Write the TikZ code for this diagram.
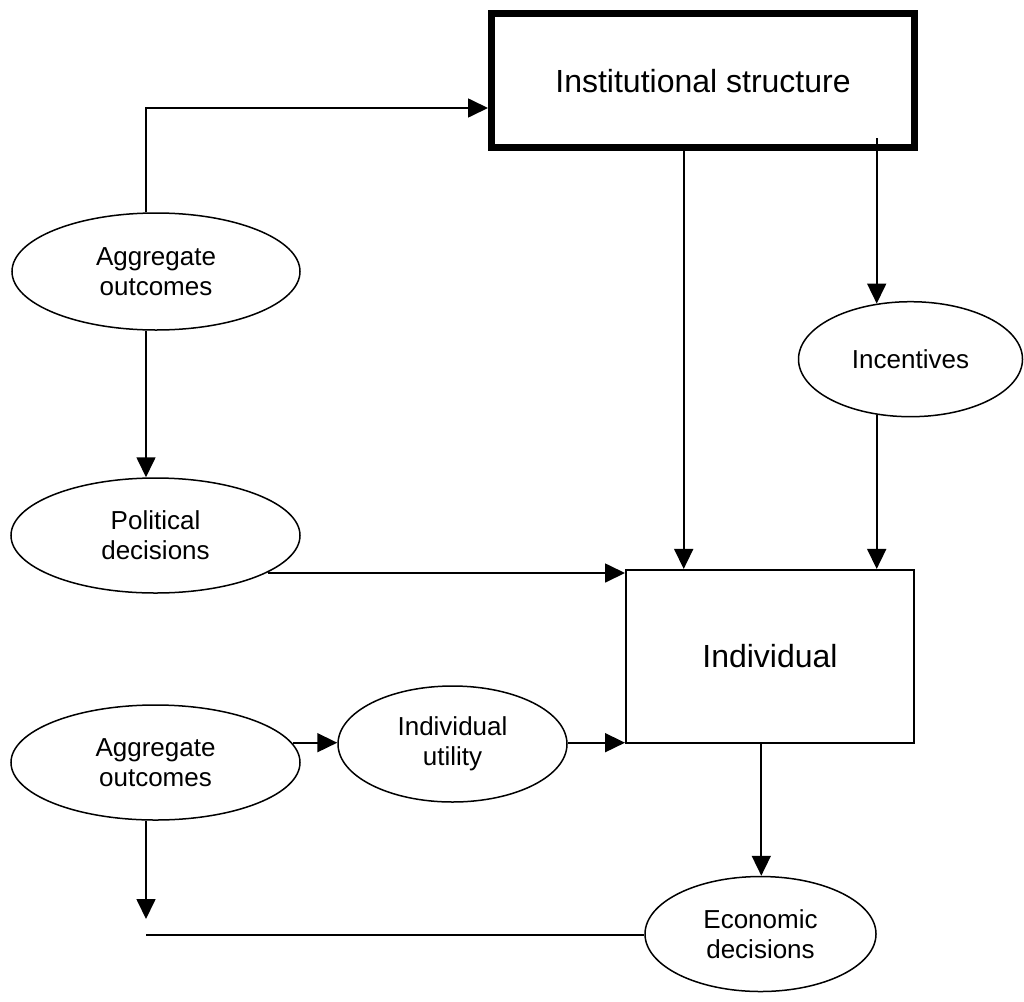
\documentclass[tikz,border=0pt]{standalone}
\usepackage{fontspec}
\setmainfont{Liberation Sans}
\usetikzlibrary{arrows.meta,shapes.geometric}
\begin{document}
\begin{tikzpicture}[x=1pt,y=-1pt,
  arr/.style={line width=1.7pt,-{Triangle[length=20pt,width=19pt]}},
  plain/.style={line width=1.7pt},
  oval/.style={draw,ellipse,line width=1.5pt,inner sep=0pt,align=center,font=\fontsize{26}{30}\selectfont},
  thickbox/.style={draw,rectangle,line width=7pt,inner sep=0pt,font=\fontsize{32}{38}\selectfont},
  indivbox/.style={draw,rectangle,line width=2pt,inner sep=0pt,font=\fontsize{32}{38}\selectfont}]
\useasboundingbox (0,0) rectangle (1024,1001);

\node[thickbox,minimum width=423pt,minimum height=134pt] (inst) at (703,80.6) {Institutional structure};
\node[oval,minimum width=288pt,minimum height=117pt] (agg1) at (156,271.5) {Aggregate\\outcomes};
\node[oval,minimum width=224pt,minimum height=115pt] (incent) at (910.5,359.2) {Incentives};
\node[oval,minimum width=289pt,minimum height=115pt] (polit) at (155.5,535.5) {Political\\decisions};
\node[indivbox,minimum width=288pt,minimum height=172.7pt] (indiv) at (770,656.3) {Individual};
\node[oval,minimum width=289pt,minimum height=115pt] (agg2) at (155.5,762.5) {Aggregate\\outcomes};
\node[oval,minimum width=229pt,minimum height=116pt] (util) at (452.5,744) {Individual\\utility};
\node[oval,minimum width=231pt,minimum height=115pt] (econ) at (760.5,934) {Economic\\decisions};

\coordinate (xl) at (146,0);
\coordinate (ytop) at (0,108);
\coordinate (xa) at (683.7,0);
\coordinate (xb) at (876.7,0);
\coordinate (s3) at (876.7,138);
\coordinate (y573) at (0,573);
\coordinate (y743) at (0,742.7);
\coordinate (xc) at (761.3,0);
\coordinate (t10) at (146,919);
\coordinate (l11) at (146,935);

\draw[arr] (agg1.north -| xl) |- (inst.west |- ytop);
\draw[arr] (inst.south -| xa) -- (indiv.north -| xa);
\draw[arr] (s3) -- (incent.121.7 -| xb);
\draw[arr] (incent.238.3 -| xb) -- (indiv.north -| xb);
\draw[arr] (agg1.south -| xl) -- (polit.north -| xl);
\draw[arr] (polit.-18.9 |- y573) -- (indiv.west |- y573);
\draw[arr] (agg2.8.3 |- y743) -- (util.west |- y743);
\draw[arr] (util.east |- y743) -- (indiv.west |- y743);
\draw[arr] (indiv.south -| xc) -- (econ.north -| xc);
\draw[arr] (agg2.south -| xl) -- (t10);
\draw[plain] (l11) -- (econ.west |- l11);
\end{tikzpicture}
\end{document}
